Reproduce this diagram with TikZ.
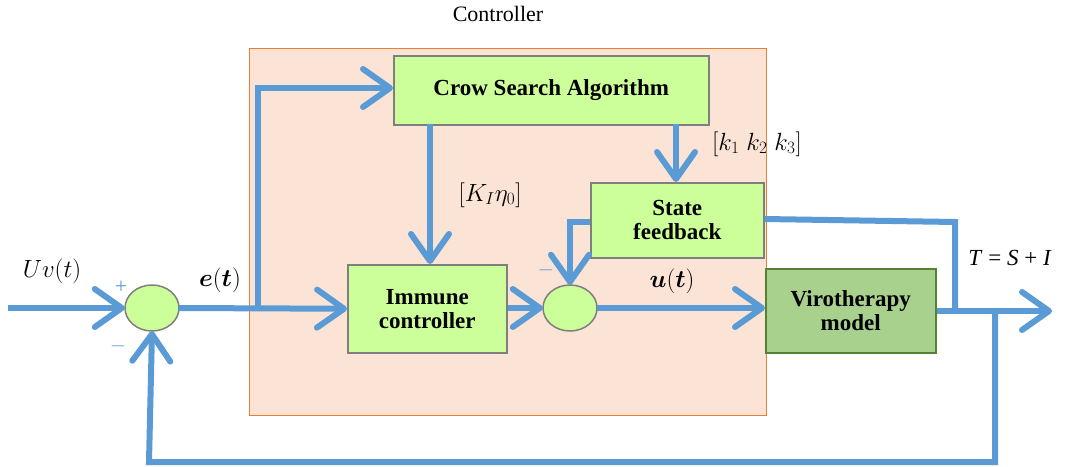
\documentclass[tikz,border=0pt]{standalone}
\usepackage{amsmath}
\usepackage{fontspec}
\setmainfont{Liberation Serif}
\newfontfamily\tnr{Liberation Serif}
\usetikzlibrary{arrows.meta}
\definecolor{ablue}{HTML}{5B9BD5}
\definecolor{peach}{HTML}{FBE3D6}
\definecolor{orng}{HTML}{ED7D31}
\definecolor{lgreen}{HTML}{CCFF99}
\definecolor{mgreen}{HTML}{A9D18E}
\definecolor{dgreen}{HTML}{548235}
\definecolor{bgray}{HTML}{7F7F7F}
\begin{document}
\begin{tikzpicture}[x=1pt,y=-1pt,
  blk/.style={draw=bgray,line width=1.5pt,fill=lgreen,font=\tnr\fontsize{23}{24}\selectfont\bfseries,align=center,inner sep=0pt},
  wire/.style={draw=ablue,line width=6pt},
  arr/.style={wire,-{Straight Barb[length=27pt,width=38pt,line width=6pt,round]}},
  lbl/.style={font=\fontsize{23}{25}\selectfont}
]
\useasboundingbox (0,0) rectangle (1070,466);
\node[draw=orng,line width=1.2pt,fill=peach,minimum width=517pt,minimum height=367pt,anchor=north west,inner sep=0pt] (ctrl) at (249,48) {};
\node[font=\tnr\fontsize{22}{24}\selectfont] (ctl) at (498,14) {Controller};
\node[blk,minimum width=315pt,minimum height=69pt,anchor=north west] (csa) at (393,55) {Crow Search Algorithm};
\node[blk,minimum width=173pt,minimum height=75pt,anchor=north west] (sf) at (590,182) {State\\feedback};
\node[blk,minimum width=159pt,minimum height=88pt,anchor=north west] (ic) at (347,264) {Immune\\controller};
\node[blk,fill=mgreen,draw=dgreen,minimum width=170pt,minimum height=84pt,anchor=north west] (vm) at (765,268) {Virotherapy\\model};
\draw[draw=bgray,line width=1.5pt,fill=lgreen] (152,308) ellipse (27 and 23);
\node[minimum width=54pt,minimum height=46pt,inner sep=0pt] (s1) at (152,308) {};
\draw[draw=bgray,line width=1.5pt,fill=lgreen] (570,308) ellipse (27 and 23);
\node[minimum width=54pt,minimum height=46pt,inner sep=0pt] (s2) at (570,308) {};
\coordinate (in) at (8,308);
\coordinate (br) at (258,308);
\coordinate (out) at (1052,311);
\coordinate (jn) at (995,311);
\coordinate (jn2) at (955,311);
% arrows
\draw[arr] (in) -- (s1.west);
\draw[arr] (s1.east) -- (ic.west);
\draw[arr] (br) |- (csa.west |- 0,88);
\draw[arr] (ic.north -| 430,0) ++(0,-140) -- (ic.north -| 430,0);
\draw[arr] (sf.north -| 676,0) ++(0,-58) -- (sf.north -| 676,0);
\draw[arr] (ic.east |- s2.west) -- (s2.west);
\draw[arr] (sf.west |- 0,222) -| (s2.north);
\draw[arr] (s2.east) -- (vm.west |- s2.east);
\draw[arr] (vm.east |- out) -- (out);
\draw[wire] (sf.east |- 0,219) -- (955,222) -- (jn2);
\draw[arr] (jn) -- (995,462) -- (149,462) -- (s1.south);
% labels
\node[lbl] (uv) at (52,271) {$Uv(t)$};
\node[text=ablue,font=\tnr\fontsize{22}{24}\selectfont] (p1) at (121,287) {+};
\node[text=ablue,font=\fontsize{20}{22}\selectfont] (m1) at (118,346) {$-$};
\node[lbl] (et) at (220,280) {$\boldsymbol{e}(\boldsymbol{t})$};
\node[lbl] (kk) at (490,195) {$[K_I\eta_0]$};
\node[lbl] (kkk) at (757,144) {$[k_1\;k_2\;k_3]$};
\node[text=ablue,font=\fontsize{20}{22}\selectfont] (m2) at (546,270) {$-$};
\node[lbl] (ut) at (672,281) {$\boldsymbol{u}(\boldsymbol{t})$};
\node[font=\tnr\fontsize{23}{25}\selectfont] (tsi) at (1010,258) {\textit{T} = \textit{S} + \textit{I}};
\end{tikzpicture}
\end{document}
